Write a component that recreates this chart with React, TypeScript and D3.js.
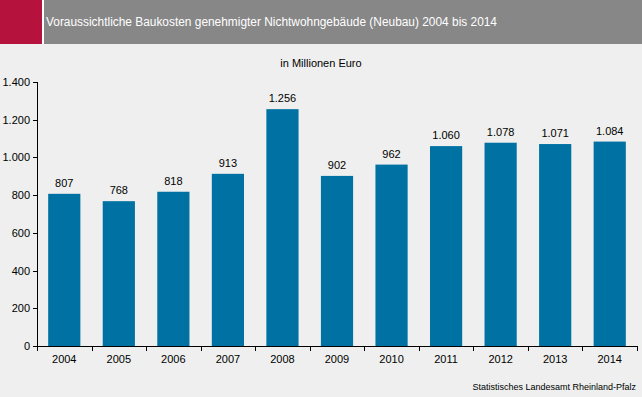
import * as d3 from 'd3';
import React from 'react';

const years = ['2004', '2005', '2006', '2007', '2008', '2009', '2010', '2011', '2012', '2013', '2014'];
const costs = [807, 768, 818, 913, 1256, 902, 962, 1060, 1078, 1071, 1084];
const yTicks = [0, 200, 400, 600, 800, 1000, 1200, 1400];

const W = 642;
const H = 397;
const font = '"Liberation Sans", Arial, sans-serif';
const fmt = d3.formatLocale({ decimal: ',', thousands: '.', grouping: [3], currency: ['', ' €'] }).format(',d');

export default function App() {
  const margin = { top: 82, right: 5, bottom: 51, left: 37 };
  const x = d3.scaleBand<string>().domain(years).range([margin.left, W - margin.right]).paddingInner(0.41).paddingOuter(0.205);
  const xEdges = d3.scaleLinear().domain([0, years.length]).range([margin.left, W - margin.right]);
  const y = d3.scaleLinear().domain([0, 1400]).range([H - margin.bottom, margin.top]);
  const y0 = y(0);

  return (
    <div style={{ position: 'absolute', left: 0, top: 0 }}>
      <svg width={W} height={H} style={{ display: 'block' }} fontFamily={font}>
        <rect width={W} height={H} fill="#eeefee" />
        <rect x={0} y={0} width={W} height={44} fill="#878787" />
        <rect x={0} y={0} width={42} height={44} fill="#b5123e" />
        <rect x={42} y={0} width={2} height={44} fill="#ffffff" />
        <text x={46} y={26} fill="#ffffff" fontSize={12.5} textLength={451} lengthAdjust="spacingAndGlyphs">
          Voraussichtliche Baukosten genehmigter Nichtwohngebäude (Neubau) 2004 bis 2014
        </text>
        <text x={321} y={67} textAnchor="middle" fontSize={11} fill="#000">in Millionen Euro</text>

        {costs.map((v, i) => (
          <g key={years[i]}>
            <rect x={x(years[i])} y={y(v)} width={x.bandwidth()} height={y0 - y(v)} fill="#0071a3" />
            <text x={(x(years[i]) ?? 0) + x.bandwidth() / 2} y={y(v) - 7} textAnchor="middle" fontSize={11} fill="#000">
              {fmt(v)}
            </text>
          </g>
        ))}

        {/* y axis */}
        <line x1={margin.left + 0.5} x2={margin.left + 0.5} y1={y(1400)} y2={y0} stroke="#000" />
        {yTicks.map(t => (
          <g key={t}>
            <line x1={margin.left - 4} x2={margin.left} y1={Math.round(y(t)) + 0.5} y2={Math.round(y(t)) + 0.5} stroke="#000" />
            <text x={margin.left - 7} y={y(t) + 4} textAnchor="end" fontSize={11} fill="#000">{fmt(t)}</text>
          </g>
        ))}

        {/* x axis */}
        <line x1={margin.left} x2={W - margin.right} y1={Math.round(y0) + 0.5} y2={Math.round(y0) + 0.5} stroke="#000" />
        {d3.range(years.length + 1).map(i => (
          <line key={i} x1={Math.round(xEdges(i)) + 0.5} x2={Math.round(xEdges(i)) + 0.5} y1={y0} y2={y0 + 5} stroke="#000" />
        ))}
        {years.map(yr => (
          <text key={yr} x={(x(yr) ?? 0) + x.bandwidth() / 2} y={y0 + 17} textAnchor="middle" fontSize={11} fill="#000">{yr}</text>
        ))}

        <text x={636} y={390} textAnchor="end" fontSize={9} fill="#000">Statistisches Landesamt Rheinland-Pfalz</text>
      </svg>
    </div>
  );
}
